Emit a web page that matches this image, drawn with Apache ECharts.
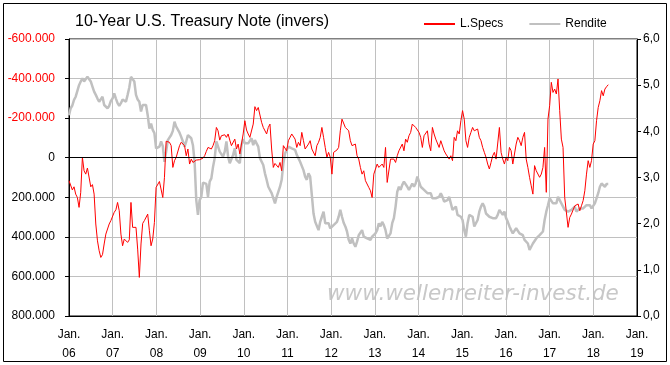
<!DOCTYPE html>
<html><head><meta charset="utf-8">
<script src="https://cdn.jsdelivr.net/npm/echarts@6/dist/echarts.min.js"></script>
<style>html,body{margin:0;padding:0;background:#fff}#c{width:670px;height:365px}</style>
</head><body><div id="c"></div>
<script>
// sampling: one value every 14 days starting Jan 2006
const startYear = 2006;
const stepDays = 14;

// Large speculators net position, in thousands of contracts (left axis, inverted)
const lSpecs = [
116,125,163,147,184,201,251,175,-2,66,83,52,45,147,136,184,335,420,470,504,490,436,386,377,335,318,318,276,263,226,268,386,445,411,420,428,415,226,352,352,352,462,605,436,332,318,318,285,369,445,411,327,
150,142,120,125,201,99,-83,-86,-78,-61,49,15,-2,-5,-61,-78,-78,-61,-10,-44,32,7,24,32,12,12,10,15,2,-10,-32,-52,-49,-44,-61,-86,-153,-136,-89,-111,-110,-116,-103,-120,-89,-61,-69,-94,-44,-69,-19,-10,-120,-187,-140,-120,-103,
-103,-170,-258,-238,-254,-246,-179,-153,-162,-120,-153,-170,-44,49,29,32,49,24,66,-61,-52,-35,-86,-103,-120,-128,-94,-52,-78,-61,-128,-86,-44,-52,-69,-86,-44,-52,-10,-61,-78,-103,-153,-103,-52,-2,-27,-2,83,-27,-35,-39,-52,-136,-195,-187,-153,
-145,-136,-86,-61,-61,-69,-10,7,49,83,66,116,108,150,167,201,83,74,32,49,49,32,49,-52,125,133,7,-2,7,24,-10,-35,-27,-69,-35,-94,-78,-111,-128,-170,-179,-153,-145,-128,-103,-52,-111,-103,-136,-69,-35,-153,-120,-94,-86,-52,-86,
-78,-35,-19,-27,7,-10,15,-103,-86,-136,-120,-187,-238,-195,-86,-52,-103,-128,-153,-136,-136,-145,-103,-86,-52,-27,-2,32,57,24,-10,-27,7,7,-153,-27,7,32,-2,15,-52,-35,32,24,-69,-103,-86,-61,-103,-128,7,49,99,142,184,40,66,
74,99,83,49,-52,175,-195,-263,-381,-330,-347,-322,-398,-238,-94,-52,201,201,352,302,285,276,243,243,234,268,243,217,167,83,15,49,15,-69,-86,-187,-254,-288,-339,-313,-347,-359,-369
];

// 10-year yield in percent (right axis)
const rendite = [
4.35,4.50,4.56,4.68,4.75,4.75,5.00,5.08,5.15,5.08,5.10,5.18,5.22,5.08,4.97,4.86,4.79,4.71,4.64,4.66,4.75,4.57,4.57,4.50,4.55,4.66,4.71,4.82,4.71,4.61,4.55,4.61,4.69,4.73,4.64,4.79,4.95,5.18,5.18,5.08,4.79,4.69,4.64,4.43,4.57,4.61,4.57,4.35,4.06,4.17,4.03,3.96,
3.63,3.60,3.67,3.78,3.68,3.34,3.56,3.81,3.83,3.92,4.01,4.21,4.10,4.06,3.97,3.88,3.78,3.67,3.78,3.92,3.96,3.85,3.70,3.34,2.51,2.19,2.51,2.58,2.89,2.87,2.86,2.58,2.91,2.98,3.23,3.42,3.78,3.81,3.56,3.60,3.45,3.56,3.78,3.45,3.31,3.34,3.49,3.63,3.38,3.42,3.31,3.70,3.83,3.74,3.78,3.74,3.78,
3.85,3.70,3.81,3.85,3.67,3.42,3.45,3.27,3.09,2.95,2.80,2.77,2.66,2.62,2.44,2.58,2.60,2.80,2.95,3.31,3.52,3.49,3.67,3.70,3.63,3.63,3.60,3.49,3.42,3.34,3.38,3.16,3.02,2.95,3.09,3.02,2.62,2.22,2.04,2.01,1.86,2.04,2.15,2.26,2.01,2.04,2.01,1.90,1.94,1.97,2.01,2.04,2.15,2.30,2.15,2.02,1.94,
1.83,1.65,1.57,1.68,1.57,1.50,1.61,1.75,1.79,1.86,1.72,1.75,1.68,1.65,1.65,1.72,1.72,1.79,1.86,2.01,1.94,2.04,1.97,1.86,1.68,1.68,1.79,2.01,2.12,2.37,2.69,2.80,2.73,2.84,2.91,2.87,2.80,2.73,2.80,2.87,2.80,2.87,3.02,2.98,2.80,2.77,2.73,2.69,2.66,2.62,2.66,2.55,2.58,2.55,2.51,2.58,2.66,
2.58,2.48,2.44,2.51,2.58,2.44,2.30,2.33,2.37,2.19,2.22,2.15,2.08,1.86,1.72,2.01,2.19,2.15,2.15,1.94,1.90,2.08,2.26,2.37,2.44,2.37,2.22,2.19,2.15,2.12,2.12,2.08,2.12,2.19,2.30,2.26,2.19,2.26,2.12,2.04,1.94,1.86,1.79,1.83,1.90,1.86,1.79,1.83,1.75,1.65,1.68,1.57,1.43,1.50,1.57,1.61,1.68,
1.72,1.75,1.79,1.83,2.08,2.26,2.40,2.55,2.51,2.44,2.48,2.44,2.58,2.62,2.44,2.37,2.30,2.33,2.26,2.22,2.30,2.26,2.37,2.26,2.30,2.33,2.37,2.33,2.37,2.40,2.37,2.40,2.33,2.37,2.44,2.55,2.66,2.80,2.87,2.84,2.80,2.86,2.86
];

const xMin = 2006, xMax = 2019, xStep = 1;
const leftMin = -600, leftMax = 800, leftStep = 200;
const rightMin = 0, rightMax = 6, rightStep = 1;
const titleText = '10-Year U.S. Treasury Note (invers)';
const seriesNames = ['L.Specs', 'Rendite'];
const watermark = 'www.wellenreiter-invest.de';

function toPairs(arr){ return arr.map((v,i)=>[startYear + i*stepDays/365.25, v]); }

const FONT = '"Liberation Sans", Arial, sans-serif';
const chart = echarts.init(document.getElementById('c'), null, {renderer:'canvas'});
chart.setOption({
  animation:false,
  backgroundColor:'#ffffff',
  textStyle:{fontFamily:FONT},
  title:{text:titleText, left:70, top:9, textStyle:{fontFamily:FONT, fontSize:16, fontWeight:'normal', color:'#000'}},
  legend:{left:419, top:13, itemWidth:31, itemHeight:2, itemGap:26, icon:'rect',
    textStyle:{fontFamily:FONT, fontSize:12, color:'#000'}, data:seriesNames},
  grid:{left:69, right:33, top:39, bottom:49, show:true, borderColor:'#000', borderWidth:1, containLabel:false},
  xAxis:{type:'value', min:xMin, max:xMax, interval:xStep,
    axisLine:{show:true, onZero:false, lineStyle:{color:'#000'}}, axisTick:{show:false},
    splitLine:{show:true, lineStyle:{color:'#c0c0c0', width:1}},
    axisLabel:{formatter:v=>'Jan.\n'+String(v).slice(2), fontFamily:FONT, fontSize:12, lineHeight:19, color:'#000', margin:9, showMinLabel:true, showMaxLabel:true}},
  yAxis:[
    {type:'value', inverse:true, min:leftMin, max:leftMax, interval:leftStep, position:'left',
     axisLine:{show:true, onZero:false, lineStyle:{color:'#000'}}, axisTick:{show:true, length:4, lineStyle:{color:'#000'}},
     splitLine:{show:true, lineStyle:{color:'#c0c0c0', width:1}},
     axisLabel:{formatter:v=> v===0 ? '0' : v+'.000', color:(v)=> Number(v)<0 ? '#ff0000' : '#000', fontFamily:FONT, fontSize:12, margin:14}},
    {type:'value', min:rightMin, max:rightMax, interval:rightStep, position:'right',
     axisLine:{show:true, onZero:false, lineStyle:{color:'#000'}}, axisTick:{show:true, length:4, lineStyle:{color:'#000'}},
     splitLine:{show:false},
     axisLabel:{formatter:v=> Number(v).toFixed(1).replace('.', ','), color:'#000', fontFamily:FONT, fontSize:12, margin:6}}
  ],
  series:[
    {name:seriesNames[0], type:'line', yAxisIndex:0, data:toPairs(lSpecs), symbol:'none', showSymbol:false,
     lineStyle:{color:'#ff0000', width:1}, itemStyle:{color:'#ff0000'}, z:3,
     markLine:{silent:true, symbol:'none', label:{show:false}, animation:false,
       lineStyle:{color:'#000', width:1, type:'solid'}, emphasis:{disabled:true}, data:[{yAxis:0}]}},
    {name:seriesNames[1], type:'line', yAxisIndex:1, data:toPairs(rendite), symbol:'none', showSymbol:false,
     lineStyle:{color:'#c0c0c0', width:2.5}, itemStyle:{color:'#c0c0c0'}, z:2}
  ],
  graphic:[
    {type:'text', left:327, top:283, z:-10, silent:true,
     style:{text:watermark, fontFamily:'"DejaVu Sans", sans-serif', fontStyle:'italic', fontSize:21.5, fill:'#c8c8c8'}},
    {type:'rect', silent:true, shape:{x:3.5, y:3.5, width:663, height:358}, style:{fill:'none', stroke:'#000', lineWidth:1}}
  ]
});
</script></body></html>
